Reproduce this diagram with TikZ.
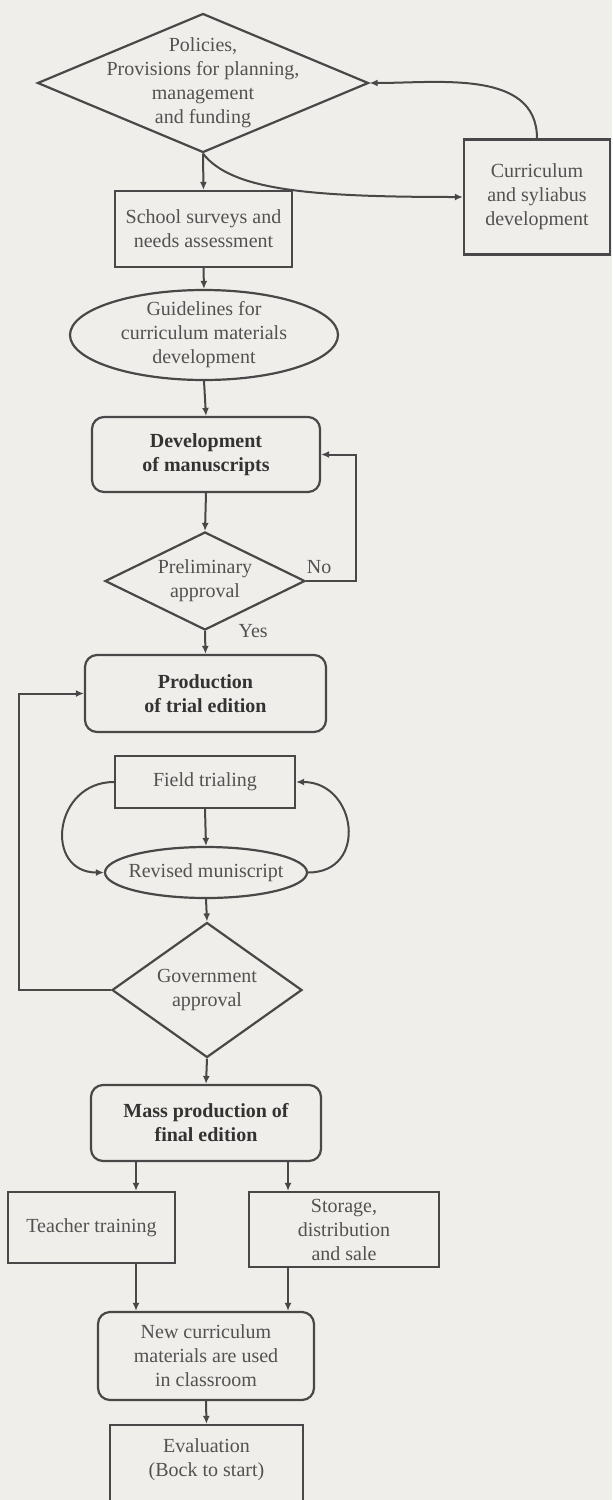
\documentclass[tikz,border=0pt]{standalone}
\usepackage{fontspec}
\setmainfont{Liberation Serif}
\usepackage{tikz}
\usetikzlibrary{arrows.meta,shapes.geometric,positioning}
\definecolor{bgpaper}{RGB}{240,238,234}
\definecolor{inkline}{RGB}{72,72,72}
\definecolor{inktext}{RGB}{82,82,82}
\begin{document}
\begin{tikzpicture}[x=0.5pt,y=-0.5pt,>={Latex[length=4pt,width=3.5pt]},
  every node/.style={font=\fontsize{10}{12}\selectfont,text=inktext,align=center},
  box/.style={draw=inkline,line width=1.1pt,rectangle,inner sep=0pt},
  rbox/.style={box,rounded corners=6pt},
  heavy/.style={font=\fontsize{10}{12}\selectfont\bfseries,text=black!80},
  dia/.style={draw=inkline,line width=1.1pt,diamond,inner sep=0pt},
  ell/.style={draw=inkline,line width=1.1pt,ellipse,inner sep=0pt},
  arr/.style={->,draw=inkline,line width=1pt}]
  \fill[bgpaper] (0,0) rectangle (612,1500);
  \useasboundingbox (0,0) rectangle (612,1500);

  \node[dia,minimum width=165.5pt,minimum height=69.5pt] (pol) at (203,83) {};
  \node (polt) at (pol) {Policies,\\Provisions for planning,\\management\\and funding};
  \node[box,minimum width=73pt,minimum height=57.5pt] (cur) at (537,197) {Curriculum\\and syliabus\\development};
  \node[box,minimum width=88.5pt,minimum height=38pt] (srv) at (203.5,229) {School surveys and\\needs assessment};
  \node[ell,minimum width=134pt,minimum height=45pt] (gdl) at (204,335) {};
  \node (gdlt) at (gdl) {Guidelines for\\curriculum materials\\development};
  \node[rbox,heavy,minimum width=114pt,minimum height=37.5pt] (dev) at (206,454.5) {Development\\of manuscripts};
  \node[dia,minimum width=100pt,minimum height=49pt] (pre) at (205,581) {};
  \node (pret) at (pre) {Preliminary\\approval};
  \node[rbox,heavy,minimum width=120.5pt,minimum height=38.5pt] (prod) at (205.5,693.5) {Production\\of trial edition};
  \node[box,minimum width=90pt,minimum height=26pt] (fld) at (205,782) {Field trialing};
  \node[ell,minimum width=101pt,minimum height=25.5pt] (rev) at (206,872.5) {};
  \node (revt) at (rev) {Revised muniscript};
  \node[dia,minimum width=95pt,minimum height=67.5pt] (gov) at (207,990) {};
  \node (govt) at (gov) {Government\\approval};
  \node[rbox,heavy,minimum width=115pt,minimum height=38pt] (mass) at (206,1123) {Mass production of\\final edition};
  \node[box,minimum width=83.5pt,minimum height=35.5pt] (tch) at (91.5,1227.5) {Teacher training};
  \node[box,minimum width=95pt,minimum height=37.5pt] (sto) at (344,1229.5) {Storage,\\distribution\\and sale};
  \node[rbox,minimum width=108pt,minimum height=44pt] (use) at (206,1356) {New curriculum\\materials are used\\in classroom};
  \node[box,minimum width=96.5pt,minimum height=40pt] (evl) at (206.5,1465) {};
  \node (evlt) at (206.5,1460) {Evaluation\\(Bock to start)};
  \coordinate (colL) at (136,1160);
  \coordinate (colR) at (288,1160);

  \draw[arr] (pol.south) -- (srv.north);
  \draw[arr] (pol.south) to[out=-52,in=180,out looseness=0.45,in looseness=1.5] (cur.west);
  \draw[arr] (cur.north) to[out=90,in=0] (pol.east);
  \draw[arr] (srv.south) -- (gdl.north);
  \draw[arr] (gdl.south) -- (dev.north);
  \draw[arr] (dev.south) -- (pre.north);
  \draw[arr] (pre.east) -- node[above,pos=0.26] (no) {No} ++(50,0) |- (dev.east);
  \draw[arr] (pre.south) -- node[pos=0,anchor=west,xshift=13pt] (yes) {Yes} (prod.north);
  \draw[arr] (fld.south) -- (rev.north);
  \draw[arr] (fld.west) to[out=180,in=180,looseness=1.7] (rev.west);
  \draw[arr] (rev.east) to[out=0,in=0,looseness=1.7] (fld.east);
  \draw[arr] (rev.south) -- (gov.north);
  \draw[arr] (gov.west) -- ++(-92,0) |- (prod.west);
  \draw[arr] (gov.south) -- (mass.north);
  \draw[arr] (mass.south -| colL) -- (tch.north -| colL);
  \draw[arr] (mass.south -| colR) -- (sto.north -| colR);
  \draw[arr] (tch.south -| colL) -- (use.north -| colL);
  \draw[arr] (sto.south -| colR) -- (use.north -| colR);
  \draw[arr] (use.south) -- (evl.north);
\end{tikzpicture}
\end{document}
